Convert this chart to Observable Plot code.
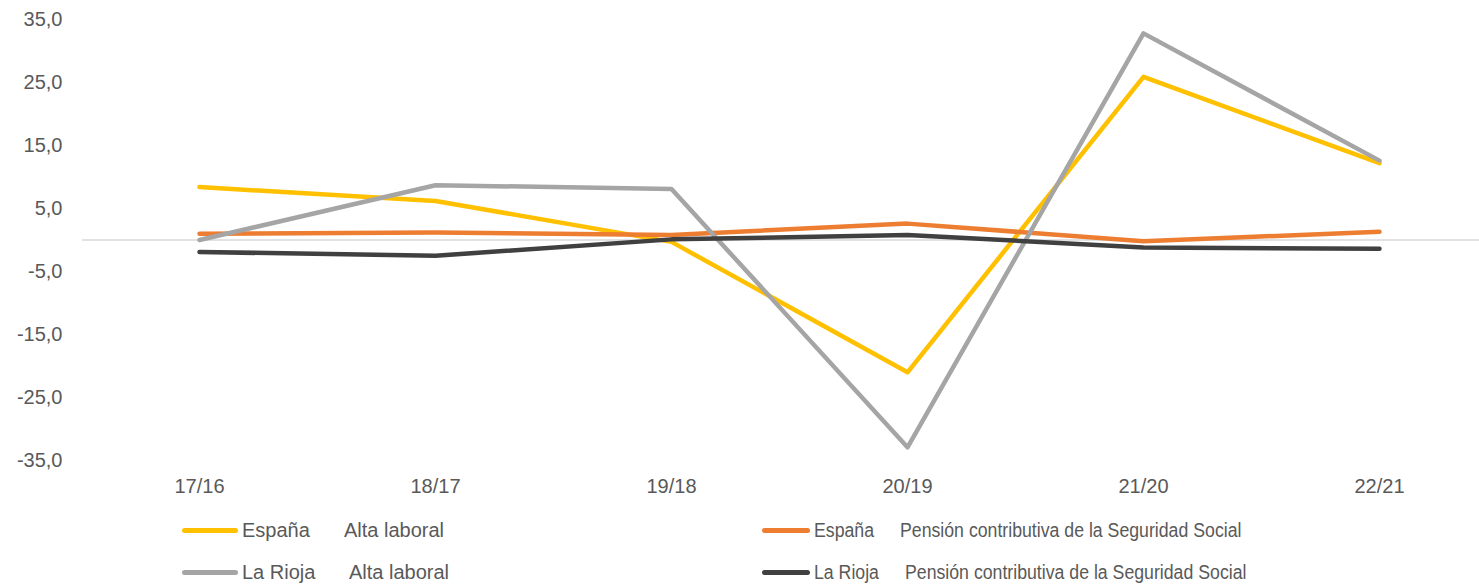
<!DOCTYPE html>
<html>
<head>
<meta charset="utf-8">
<script src="https://cdn.jsdelivr.net/npm/d3@7"></script>
<script src="https://cdn.jsdelivr.net/npm/@observablehq/plot@0.6"></script>
<style>
  html, body { margin: 0; padding: 0; background: #fff; }
  body { width: 1479px; height: 587px; overflow: hidden; font-family: "Liberation Sans", Arial, sans-serif; }
  #legend { position: relative; width: 1479px; height: 87px; color: #595959; font-size: 20px; }
  .sw { position: absolute; height: 5px; border-radius: 3px; }
  .tx { position: absolute; white-space: pre; line-height: 20px; transform-origin: left center; }
</style>
</head>
<body>
<div id="chart"></div>
<div id="legend"></div>
<script>
const categories = ["17/16", "18/17", "19/18", "20/19", "21/20", "22/21"];
const espanaAlta = [8.4, 6.2, -0.3, -21.0, 25.9, 12.2];
const espanaPension = [1.0, 1.2, 0.8, 2.6, -0.2, 1.3];
const riojaAlta = [0.0, 8.7, 8.1, -32.9, 32.8, 12.6];
const riojaPension = [-1.9, -2.5, 0.1, 0.8, -1.2, -1.4];
const seriesRegions = ["España", "España", "La Rioja", "La Rioja"];
const seriesMeasures = ["Alta laboral", "Pensión contributiva de la Seguridad Social", "Alta laboral", "Pensión contributiva de la Seguridad Social"];
const seriesColors = ["#FFC000", "#ED7D31", "#A5A5A5", "#404040"];
const seriesValues = [espanaAlta, espanaPension, riojaAlta, riojaPension];
const yTicks = [-35, -25, -15, -5, 5, 15, 25, 35];

const rows = [];
seriesValues.forEach((vals, s) => {
  vals.forEach((v, i) => rows.push({ series: s, cat: categories[i], value: v }));
});

const fmt = v => v.toFixed(1).replace(".", ",");

const chart = Plot.plot({
  width: 1479,
  height: 500,
  marginLeft: 82,
  marginRight: 0,
  marginTop: 19,
  marginBottom: 40,
  style: { fontFamily: "'Liberation Sans', Arial, sans-serif", fontSize: "20px", color: "#595959", background: "#fff" },
  x: { type: "point", domain: categories, range: [199, 1379], padding: 0, label: null },
  y: { domain: [-35, 35], label: null },
  marks: [
    Plot.ruleY([0], { stroke: "#D9D9D9", strokeWidth: 1.5 }),
    Plot.axisY({ ticks: yTicks, tickFormat: fmt, tickSize: 0, tickPadding: 20, fill: "#595959", label: null }),
    Plot.axisX({ tickSize: 0, tickPadding: 18, fill: "#595959", label: null }),
    ...seriesValues.map((vals, s) =>
      Plot.line(rows.filter(d => d.series === s), {
        x: "cat", y: "value", stroke: seriesColors[s], strokeWidth: 4.5,
        strokeLinecap: "round", strokeLinejoin: "round"
      })
    )
  ]
});
document.getElementById("chart").appendChild(chart);

// Legend (layout only; content from series arrays)
const legend = document.getElementById("legend");
const slots = [
  { sx: 182, sw: 56, rx: 242, mx: 344, y: 30, scale: 1 },
  { sx: 762, sw: 48, rx: 814, mx: 900, y: 30, scale: 0.885 },
  { sx: 182, sw: 56, rx: 242, mx: 349, y: 72, scale: 1 },
  { sx: 762, sw: 48, rx: 814, mx: 905, y: 72, scale: 0.885 }
];
slots.forEach((p, s) => {
  const sw = document.createElement("div");
  sw.className = "sw";
  sw.style.left = p.sx + "px";
  sw.style.width = p.sw + "px";
  sw.style.top = (p.y - 2.5) + "px";
  sw.style.background = seriesColors[s];
  legend.appendChild(sw);
  const r = document.createElement("div");
  r.className = "tx";
  r.textContent = seriesRegions[s];
  r.style.left = p.rx + "px";
  r.style.top = (p.y - 10) + "px";
  r.style.transform = `scaleX(${p.scale})`;
  legend.appendChild(r);
  const m = document.createElement("div");
  m.className = "tx";
  m.textContent = seriesMeasures[s];
  m.style.left = p.mx + "px";
  m.style.top = (p.y - 10) + "px";
  m.style.transform = `scaleX(${p.scale})`;
  legend.appendChild(m);
});
</script>
</body>
</html>
